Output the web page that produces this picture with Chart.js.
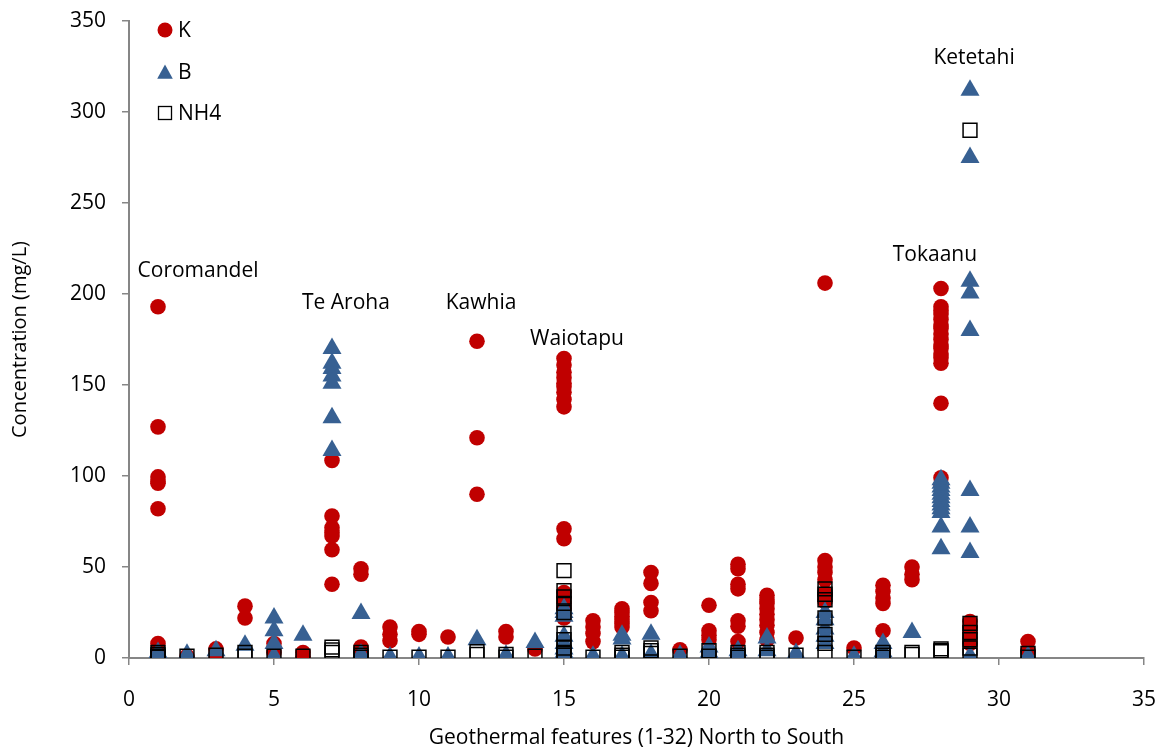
<!DOCTYPE html>
<html>
<head>
<meta charset="utf-8">
<script src="https://cdn.jsdelivr.net/npm/chart.js@4/dist/chart.umd.min.js"></script>
<style>
  html, body { margin: 0; padding: 0; background: #ffffff; }
  #wrap { width: 1165px; height: 754px; position: relative; }
</style>
</head>
<body>
<div id="wrap"><canvas id="chart" width="1165" height="754"></canvas></div>
<script>
// Geothermal feature numbers (1-32, north to south) that have samples
const features = [1, 2, 3, 4, 5, 6, 7, 8, 9, 10, 11, 12, 13, 14, 15, 16,
                  17, 18, 19, 20, 21, 22, 23, 24, 25, 26, 27, 28, 29, 31];

// Potassium (mg/L), one list of samples per feature
const kValues = [
  [193, 127, 99.5, 97, 96, 82, 8, 3],
  [1],
  [5, 2],
  [28.5, 22],
  [8, 3],
  [3, 1],
  [108.5, 78, 71.5, 69, 67, 59.5, 40.5],
  [49, 46, 6, 3],
  [17, 13, 9.5],
  [14.5, 13],
  [11.5],
  [174, 121, 90],
  [14.5, 11.5],
  [5],
  [164.5, 161, 157, 154, 151, 149, 146, 142, 138, 71, 65.5, 36, 33, 30, 27, 24, 22],
  [20.5, 17, 13.5, 9],
  [27, 25, 23, 21, 19, 17],
  [47, 41, 30.5, 26],
  [4.5],
  [29, 15, 12.5, 10, 3],
  [51.5, 49, 40.5, 38, 20.5, 17.5, 9],
  [34.5, 32, 30, 27, 24, 21, 18, 14, 10],
  [11],
  [206, 53.5, 50, 47, 43, 36, 34, 31],
  [5.5],
  [40, 36.5, 33, 30, 15],
  [50, 46, 43],
  [203, 193, 191, 189, 186, 183, 181, 178, 175, 172, 170, 167, 165, 162, 140, 99, 95],
  [20, 17, 14, 11, 8],
  [9, 4]
];

// Boron (mg/L)
const bValues = [
  [3, 1.5, 0.5, 0],
  [2],
  [4],
  [7],
  [22, 15, 8, 1],
  [12.5],
  [170, 162, 159, 155, 151, 132, 114],
  [24.5, 2, 0],
  [0.5],
  [0.5],
  [0.5],
  [10],
  [1.5],
  [8.5],
  [27, 25, 23, 12, 8, 5, 3, 1],
  [1],
  [12.5, 10.5, 1],
  [13, 2],
  [1.5],
  [6, 3, 1],
  [4, 1.5],
  [11, 4],
  [2.5],
  [25, 21, 16, 12, 8],
  [1],
  [8, 3.5, 0.5],
  [14],
  [98, 96, 94, 92, 90, 88, 86, 84, 82, 80, 72, 60],
  [312, 275, 207, 200.5, 180, 92, 72, 58, 1],
  [1]
];

// Ammonium (mg/L)
const nh4Values = [
  [3, 2, 1, 0.5],
  [1],
  [1.5],
  [3, 1],
  [1],
  [1],
  [6, 4.5, 3],
  [3, 1.5, 0.5],
  [0.5],
  [0.5],
  [0.5],
  [3.5, 2],
  [2, 0.5],
  [1],
  [48, 37, 33.5, 30, 25, 13.5, 10, 5.5, 3, 1.5],
  [0.5],
  [3, 1.5, 0.5],
  [5.5, 4, 2.5],
  [1],
  [4, 1],
  [3, 1.5, 0.5],
  [3, 1.5, 0.5],
  [1.5],
  [38, 35, 32, 22, 13, 8, 3],
  [0.5],
  [3, 1.5, 0.5],
  [3, 2],
  [5, 4, 3.5],
  [290, 19, 14, 10, 5.5, 1.5],
  [2.5, 0.5]
];

// Field names written over the main groups of samples
const regionNames = ['Coromandel', 'Te Aroha', 'Kawhia', 'Waiotapu', 'Tokaanu', 'Ketetahi'];

const seriesNames = ['K', 'B', 'NH4'];
const xTitle = 'Geothermal features (1-32) North to South';
const yTitle = 'Concentration (mg/L)';

// label anchors, in axis units
const regionAnchors = [
  [2.38, 212.5], [7.48, 195], [12.14, 195], [15.45, 175.5], [27.79, 221.5], [29.14, 329.5]
];

const RED = '#C00000';
const BLUE = '#376092';
const AXIS = '#868686';
const FONT = "'Open Sans', 'Noto Sans', sans-serif";

function toPoints(lists) {
  const pts = [];
  lists.forEach((vals, i) => vals.forEach(v => pts.push({ x: features[i], y: v })));
  return pts;
}

// Legend drawn inside the plot, top left, one entry per line
const insideLegend = {
  id: 'insideLegend',
  afterDraw(chart) {
    const ctx = chart.ctx;
    const x0 = 165, rows = [30, 72, 113];
    ctx.save();
    // circle
    ctx.fillStyle = RED;
    ctx.beginPath();
    ctx.arc(x0, rows[0], 7.5, 0, Math.PI * 2);
    ctx.fill();
    // triangle
    ctx.fillStyle = BLUE;
    ctx.beginPath();
    ctx.moveTo(x0, rows[1] - 7.5);
    ctx.lineTo(x0 + 7.8, rows[1] + 6.8);
    ctx.lineTo(x0 - 7.8, rows[1] + 6.8);
    ctx.closePath();
    ctx.fill();
    // square
    ctx.strokeStyle = '#000';
    ctx.lineWidth = 1.3;
    ctx.strokeRect(x0 - 6.5, rows[2] - 6.5, 13, 13);
    ctx.fillStyle = '#000';
    ctx.font = '21px ' + FONT;
    ctx.textBaseline = 'middle';
    ctx.textAlign = 'left';
    seriesNames.forEach((n, i) => ctx.fillText(n, 178, rows[i] + 1));
    ctx.restore();
  }
};

// Field names placed through the chart scales
const regionLabels = {
  id: 'regionLabels',
  afterDatasetsDraw(chart) {
    const ctx = chart.ctx;
    const xs = chart.scales.x, ys = chart.scales.y;
    ctx.save();
    ctx.fillStyle = '#000';
    ctx.font = '21px ' + FONT;
    ctx.textAlign = 'center';
    ctx.textBaseline = 'middle';
    regionNames.forEach((n, i) => {
      ctx.fillText(n, xs.getPixelForValue(regionAnchors[i][0]), ys.getPixelForValue(regionAnchors[i][1]));
    });
    ctx.restore();
  }
};

new Chart(document.getElementById('chart'), {
  type: 'scatter',
  data: {
    datasets: [
      {
        label: seriesNames[0],
        data: toPoints(kValues),
        pointStyle: 'circle',
        pointRadius: 7.8,
        pointBorderWidth: 0,
        backgroundColor: RED,
        borderColor: RED,
        order: 3
      },
      {
        label: seriesNames[1],
        data: toPoints(bValues),
        pointStyle: 'triangle',
        pointRadius: 11,
        pointBorderWidth: 0,
        backgroundColor: BLUE,
        borderColor: BLUE,
        order: 2
      },
      {
        label: seriesNames[2],
        data: toPoints(nh4Values),
        pointStyle: 'rect',
        pointRadius: 9.8,
        pointBorderWidth: 1.5,
        backgroundColor: 'rgba(0,0,0,0)',
        borderColor: '#000000',
        order: 1
      }
    ]
  },
  options: {
    responsive: false,
    animation: false,
    events: [],
    layout: { padding: { top: 21, right: 21, left: 0, bottom: 0 } },
    plugins: {
      legend: { display: false },
      tooltip: { enabled: false },
      title: { display: false }
    },
    scales: {
      x: {
        type: 'linear',
        min: 0,
        max: 35,
        ticks: { stepSize: 5, color: '#000', font: { family: FONT, size: 21 }, padding: 22, maxRotation: 0 },
        grid: { drawOnChartArea: false, drawTicks: true, tickLength: 7, color: AXIS, lineWidth: 1.5 },
        border: { display: true, color: AXIS, width: 2 },
        title: { display: true, text: xTitle, color: '#000', font: { family: FONT, size: 21 }, padding: { top: 0, bottom: 3 } },
        afterFit(scale) {
          scale.height = 96;
          scale.paddingLeft = 0;
          scale.paddingRight = 0;
        }
      },
      y: {
        type: 'linear',
        min: 0,
        max: 350,
        ticks: { stepSize: 50, color: '#000', font: { family: FONT, size: 21 }, padding: 16 },
        grid: { drawOnChartArea: false, drawTicks: true, tickLength: 7, color: AXIS, lineWidth: 1.5 },
        border: { display: true, color: AXIS, width: 2 },
        title: { display: true, text: yTitle, color: '#000', font: { family: FONT, size: 20 }, padding: { top: 8, bottom: 0 } },
        afterFit(scale) {
          scale.width = 129;
          scale.paddingTop = 0;
          scale.paddingBottom = 0;
        }
      }
    }
  },
  plugins: [regionLabels, insideLegend]
});
</script>
</body>
</html>
